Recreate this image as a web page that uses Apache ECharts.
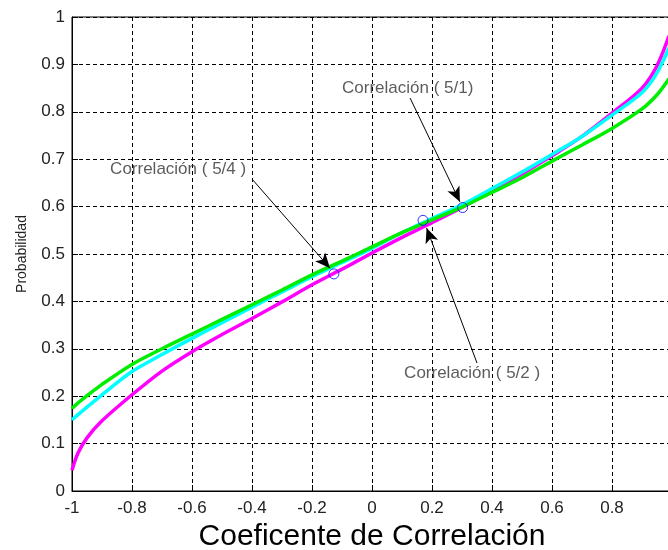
<!DOCTYPE html>
<html>
<head>
<meta charset="utf-8">
<script src="https://cdn.jsdelivr.net/npm/echarts@6/dist/echarts.min.js"></script>
<style>
  html, body { margin: 0; padding: 0; background: #fff; }
  #chart { width: 668px; height: 550px; }
</style>
</head>
<body>
<div id="chart"></div>
<script>
// Correlation coefficient (x) sampled along each curve
const coef = [-1, -0.98, -0.95, -0.9, -0.8, -0.7, -0.6, -0.5, -0.4, -0.3, -0.2, -0.1,
              0, 0.1, 0.2, 0.3, 0.4, 0.5, 0.6, 0.7, 0.8, 0.9, 0.95, 0.99];

// Cumulative probability for each curve
const probMagenta = [0.044, 0.08, 0.112, 0.148, 0.203, 0.253, 0.294, 0.33, 0.364, 0.399, 0.435, 0.468,
                     0.502, 0.535, 0.566, 0.598, 0.634, 0.669, 0.707, 0.748, 0.797, 0.85, 0.897, 0.96];
const probCyan    = [0.15, 0.161, 0.177, 0.203, 0.252, 0.288, 0.322, 0.355, 0.388, 0.42, 0.452, 0.482,
                     0.512, 0.545, 0.575, 0.604, 0.638, 0.673, 0.71, 0.748, 0.793, 0.84, 0.882, 0.935];
const probGreen   = [0.174, 0.186, 0.201, 0.225, 0.267, 0.3, 0.331, 0.362, 0.393, 0.424, 0.456, 0.485,
                     0.515, 0.545, 0.572, 0.599, 0.63, 0.661, 0.696, 0.73, 0.765, 0.806, 0.836, 0.87];

// Highlighted correlation points
const pointNames = ['Correlación ( 5/4 )', 'Correlación ( 5/2 )', 'Correlación ( 5/1)'];
const pointX = [-0.127, 0.17, 0.302];
const pointY = [0.458, 0.571, 0.598];

// Annotation text anchors (left edge, vertical centre) and arrow start / tip, in data units
const labelX = [-0.873, 0.107, -0.1];
const labelY = [0.679, 0.249, 0.850];
const arrowFromX = [-0.397, 0.35, 0.127];
const arrowFromY = [0.656, 0.27, 0.829];
const arrowToX = [-0.14, 0.182, 0.293];
const arrowToY = [0.470, 0.555, 0.610];

// Tick labels
const xTicks = ['-1', '-0.8', '-0.6', '-0.4', '-0.2', '0', '0.2', '0.4', '0.6', '0.8', '1'];
const yTicks = ['0', '0.1', '0.2', '0.3', '0.4', '0.5', '0.6', '0.7', '0.8', '0.9', '1'];

const FONT = '"Liberation Sans", Arial, Helvetica, sans-serif';

const zip = (xs, ys) => xs.map((x, i) => [x, ys[i]]);

const chart = echarts.init(document.getElementById('chart'), null, { renderer: 'canvas' });

const curve = (name, color, ys) => ({
  name: name,
  type: 'line',
  data: zip(coef, ys),
  showSymbol: false,
  smooth: 0.3,
  lineStyle: { color: color, width: 3.5 },
  itemStyle: { color: color },
  z: 3
});

const gridDash = { color: '#000', width: 1, type: [4, 3] };

chart.setOption({
  animation: false,
  backgroundColor: '#fff',
  textStyle: { fontFamily: FONT },
  grid: {
    left: 72, top: 17, width: 600, height: 474,
    outerBoundsMode: 'none',
    containLabel: false,
    show: true, borderColor: '#000', borderWidth: 1, backgroundColor: 'transparent'
  },
  xAxis: {
    type: 'value',
    min: -1, max: 1, interval: 0.2,
    name: 'Coeficente de Correlación',
    nameLocation: 'middle',
    nameGap: 27,
    nameTextStyle: { fontSize: 30, color: '#000', fontFamily: FONT },
    axisLine: { show: true, onZero: false, lineStyle: { color: '#000', width: 1 } },
    axisTick: { show: true, inside: true, length: 6, lineStyle: { color: '#000' } },
    axisLabel: {
      fontSize: 17, color: '#222', margin: 9, fontFamily: FONT,
      formatter: (v) => xTicks[Math.round((v + 1) / 0.2)]
    },
    splitLine: { show: true, lineStyle: gridDash }
  },
  yAxis: {
    type: 'value',
    min: 0, max: 1, interval: 0.1,
    name: 'Probabilidad',
    nameLocation: 'middle',
    nameRotate: 90,
    nameGap: 43,
    nameTextStyle: { fontSize: 14, color: '#222', fontFamily: FONT },
    axisLine: { show: true, onZero: false, lineStyle: { color: '#000', width: 1 } },
    axisTick: { show: true, inside: true, length: 6, lineStyle: { color: '#000' } },
    axisLabel: {
      fontSize: 17, color: '#222', margin: 7, fontFamily: FONT,
      formatter: (v) => yTicks[Math.round(v / 0.1)]
    },
    splitLine: { show: true, lineStyle: gridDash }
  },
  series: [
    curve('Magenta', '#ff00ff', probMagenta),
    curve('Cian', '#00ffff', probCyan),
    curve('Verde', '#00ee00', probGreen),
    {
      name: 'Puntos',
      type: 'scatter',
      data: zip(pointX, pointY),
      symbol: 'circle',
      symbolSize: 10,
      itemStyle: { color: 'rgba(0,0,0,0)', borderColor: '#0000ff', borderWidth: 1 },
      z: 6,
      markLine: {
        silent: true,
        symbol: ['none', 'arrow'],
        symbolSize: [10, 15],
        label: { show: false },
        lineStyle: { color: '#000', width: 1, type: 'solid' },
        itemStyle: { color: '#000' },
        data: arrowFromX.map((x, i) => [
          { coord: [x, arrowFromY[i]] },
          { coord: [arrowToX[i], arrowToY[i]] }
        ])
      }
    },
    {
      name: 'Etiquetas',
      type: 'scatter',
      data: zip(labelX, labelY).map((p, i) => ({ value: p, name: pointNames[i] })),
      symbolSize: 0,
      silent: true,
      z: 7,
      label: {
        show: true,
        position: 'right',
        distance: 0,
        formatter: (p) => p.name,
        fontSize: 17,
        color: '#333',
        fontFamily: FONT
      }
    }
  ]
});
</script>
</body>
</html>
